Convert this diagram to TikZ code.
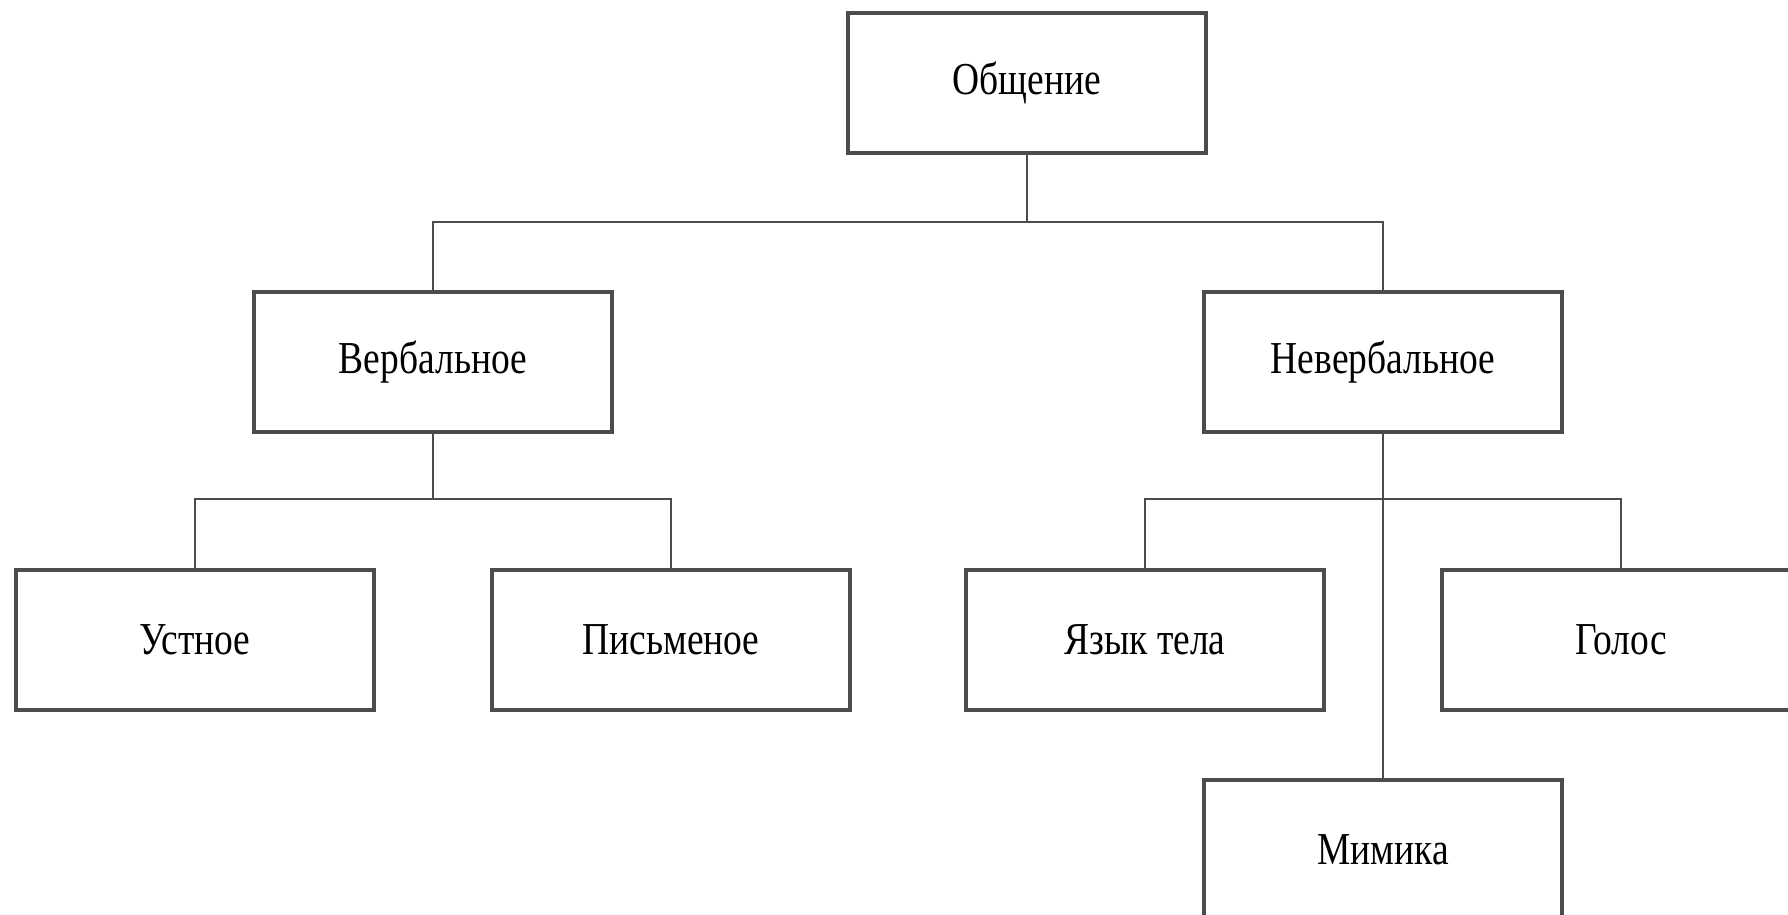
\documentclass[tikz,border=0pt]{standalone}
\usepackage{fontspec}
\setmainfont{Liberation Serif}[FakeStretch=0.82]
\usepackage{tikz}

\begin{document}
\begin{tikzpicture}[box/.style={rectangle, draw=black!70, line width=0.9pt, fill=white, minimum width=3.58cm, minimum height=1.4cm, font=\fontsize{13}{15}\selectfont},
                    link/.style={draw=black!70, line width=0.6pt}]
                    \clip (0, 0) rectangle (17.88, -9.14);

                    \node (OBSH) [box] at (10.27, -0.83) {Общение};
                    \node (VERB) [box] at (4.33, -3.62) {Вербальное};
                    \node (NEVERB) [box] at (13.83, -3.62) {Невербальное};
                    \node (UST) [box] at (1.95, -6.40) {Устное};
                    \node (PISM) [box] at (6.71, -6.40) {Письменое};
                    \node (YAZ) [box] at (11.45, -6.40) {Язык тела};
                    \node (GOL) [box] at (16.21, -6.40) {Голос};
                    \node (MIM) [box] at (13.83, -8.50) {Мимика};

                    \coordinate (BUSA) at (10.27, -2.22);
                    \coordinate (BUSB) at (4.33, -4.99);
                    \coordinate (BUSC) at (13.83, -4.99);

                    \draw[link] (OBSH) -- (BUSA);
                    \draw[link] (VERB.north) |- (BUSA) -| (NEVERB.north);
                    \draw[link] (VERB) -- (BUSB);
                    \draw[link] (UST.north) |- (BUSB) -| (PISM.north);
                    \draw[link] (NEVERB) -- (MIM);
                    \draw[link] (YAZ.north) |- (BUSC) -| (GOL.north);
                \end{tikzpicture}
\end{document}
